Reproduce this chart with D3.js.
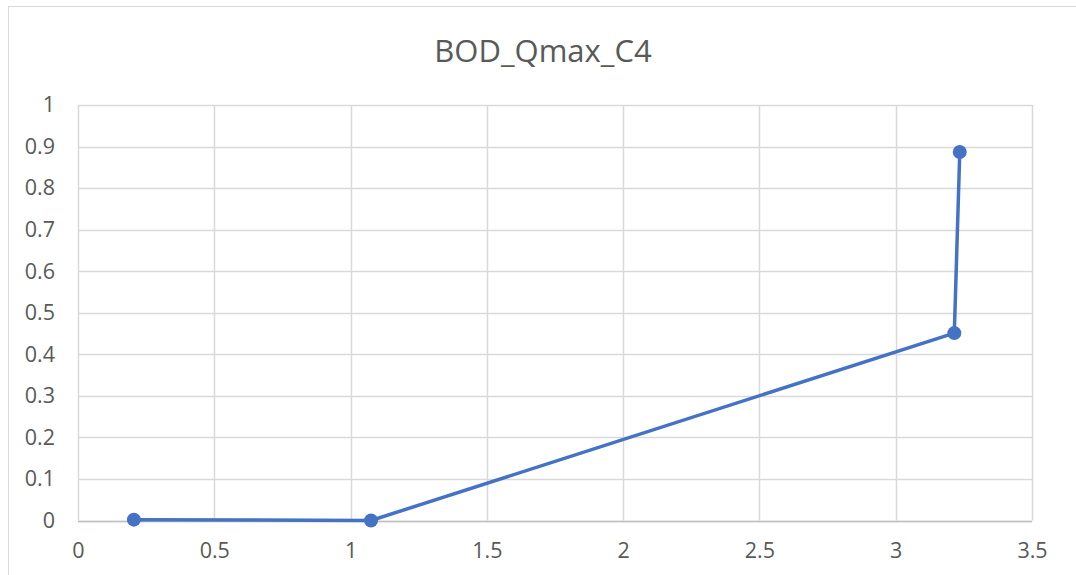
<!DOCTYPE html>
<html>
<head>
<meta charset="utf-8">
<script src="https://cdn.jsdelivr.net/npm/d3@7"></script>
<style>
  html, body { margin: 0; padding: 0; background: #fff; }
  svg { display: block; }
</style>
</head>
<body>
<svg id="chart" width="1076" height="575"></svg>
<script>
// Series: BOD_Qmax_C4
const xValues = [0.205, 1.075, 3.215, 3.235];
const yValues = [0.002, 0.0, 0.451, 0.887];
const xTicks = [0, 0.5, 1, 1.5, 2, 2.5, 3, 3.5];
const yTicks = [0, 0.1, 0.2, 0.3, 0.4, 0.5, 0.6, 0.7, 0.8, 0.9, 1];
const chartTitle = "BOD_Qmax_C4";

const svg = d3.select("#chart");
const W = 1076, H = 575;
const margin = { left: 78, right: 1076 - 1032, top: 105, bottom: 575 - 520.5 };
const font = "'Open Sans', 'Noto Sans', sans-serif";
const textColor = "#595959";
const gridColor = "#d9d9d9";
const seriesColor = "#4472C4";

// outer chart frame
svg.append("rect")
  .attr("x", 8.5).attr("y", 6.5)
  .attr("width", W + 10).attr("height", H + 10)
  .attr("fill", "#fff")
  .attr("stroke", "#d9d9d9").attr("stroke-width", 1);

const x = d3.scaleLinear().domain([0, 3.5]).range([margin.left, W - margin.right]);
const y = d3.scaleLinear().domain([0, 1]).range([H - margin.bottom, margin.top]);

// gridlines
const grid = svg.append("g");
grid.selectAll("line.v").data(xTicks).join("line")
  .attr("x1", d => Math.round(x(d)) + 0.5).attr("x2", d => Math.round(x(d)) + 0.5)
  .attr("y1", y(1)).attr("y2", y(0))
  .attr("stroke", gridColor).attr("stroke-width", 1.5);
grid.selectAll("line.h").data(yTicks).join("line")
  .attr("y1", d => Math.round(y(d)) + 0.5).attr("y2", d => Math.round(y(d)) + 0.5)
  .attr("x1", x(0)).attr("x2", x(3.5))
  .attr("stroke", gridColor).attr("stroke-width", 1.5);

// axes (labels only, Excel-style)
const xAxis = svg.append("g")
  .attr("transform", `translate(0,${y(0)})`)
  .call(d3.axisBottom(x).tickValues(xTicks).tickSize(0).tickPadding(22).tickFormat(d3.format("")));
const yAxis = svg.append("g")
  .attr("transform", `translate(${x(0)},0)`)
  .call(d3.axisLeft(y).tickValues(yTicks).tickSize(0).tickPadding(23).tickFormat(d3.format("")));
[xAxis, yAxis].forEach(a => {
  a.select(".domain").remove();
  a.selectAll("text").attr("fill", textColor).style("font-family", font).style("font-size", "21.5px");
});
// x-axis baseline
svg.append("line")
  .attr("x1", x(0)).attr("x2", x(3.5))
  .attr("y1", Math.round(y(0)) + 0.5).attr("y2", Math.round(y(0)) + 0.5)
  .attr("stroke", "#bfbfbf").attr("stroke-width", 1.5);

// title
svg.append("text")
  .attr("x", 543).attr("y", 62)
  .attr("text-anchor", "middle")
  .attr("fill", textColor)
  .style("font-family", font).style("font-size", "31px")
  .text(chartTitle);

// series line + markers
const pts = xValues.map((v, i) => [v, yValues[i]]);
svg.append("path")
  .datum(pts)
  .attr("d", d3.line().x(d => x(d[0])).y(d => y(d[1])))
  .attr("fill", "none")
  .attr("stroke", seriesColor).attr("stroke-width", 3.5)
  .attr("stroke-linejoin", "round");
svg.selectAll("circle.pt").data(pts).join("circle")
  .attr("cx", d => x(d[0])).attr("cy", d => y(d[1]))
  .attr("r", 7)
  .attr("fill", seriesColor);
</script>
</body>
</html>
